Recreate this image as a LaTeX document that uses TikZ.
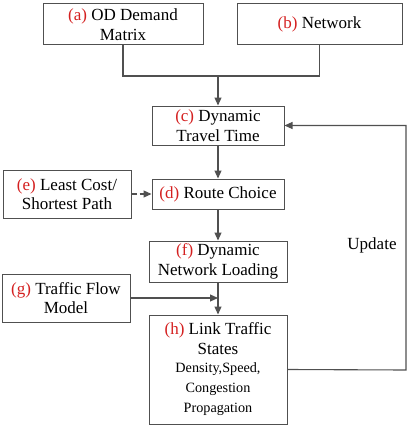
\documentclass[tikz,border=0pt]{standalone}
\usepackage{fontspec}
\setmainfont{Liberation Serif}
\newfontfamily\tnr{Liberation Serif}
\usetikzlibrary{arrows.meta}
\definecolor{lab}{HTML}{D42020}
\definecolor{ln}{HTML}{505050}
\newcommand{\lbl}[1]{\textcolor{lab}{(#1)}}
\newcommand{\sm}{\fontsize{14.2}{18}\selectfont}
\begin{document}
\begin{tikzpicture}[x=1pt,y=-1pt,
  stepbox/.style={draw=ln,line width=1pt,inner sep=0pt,align=center,
    font=\tnr\fontsize{17}{19.5}\selectfont},
  conn/.style={draw=ln,line width=1.1pt},
  arr/.style={conn,-{Triangle[length=8pt,width=7pt]}}]
\useasboundingbox (0,0) rectangle (410,428);
\node[stepbox,minimum width=160,minimum height=41] (a) at (123,24.5) {\lbl{a} OD Demand\\Matrix};
\node[stepbox,minimum width=165,minimum height=41] (b) at (319.5,24.5) {\lbl{b} Network};
\node[stepbox,minimum width=132,minimum height=39] (c) at (218,125.5) {\lbl{c} Dynamic\\Travel Time};
\node[stepbox,minimum width=132,minimum height=30] (d) at (218,194) {\lbl{d} Route Choice};
\node[stepbox,minimum width=128,minimum height=48] (e) at (67,194) {\lbl{e} Least Cost/\\Shortest Path};
\node[stepbox,minimum width=138,minimum height=41] (f) at (218,261.5) {\lbl{f} Dynamic\\Network Loading};
\node[stepbox,minimum width=128,minimum height=48] (g) at (66,298) {\lbl{g} Traffic Flow\\Model};
\node[stepbox,minimum width=138,minimum height=109] (h) at (218,369.5)
  {\lbl{h} Link Traffic\\States\\[-1pt]\sm Density,Speed,\\\sm Congestion\\[1pt]\sm Propagation};
\node[font=\tnr\fontsize{17}{19.5}\selectfont] (upd) at (372,245) {Update};
\coordinate (j) at (218,76);
\coordinate (ur) at (406,370);
\draw[conn] (a.south) |- (j) -| (b.south);
\draw[arr] (j) -- (c.north);
\draw[arr] (c.south) -- (d.north);
\draw[arr,dashed,dash pattern=on 5pt off 3pt] (e.east) -- (d.west);
\draw[arr] (d.south) -- (f.north);
\draw[arr] (f.south) -- (h.north);
\draw[arr] (g.east) -- (g.east -| f.south);
\draw[arr] (h.east) -- (ur) |- (c.east);
\end{tikzpicture}
\end{document}
